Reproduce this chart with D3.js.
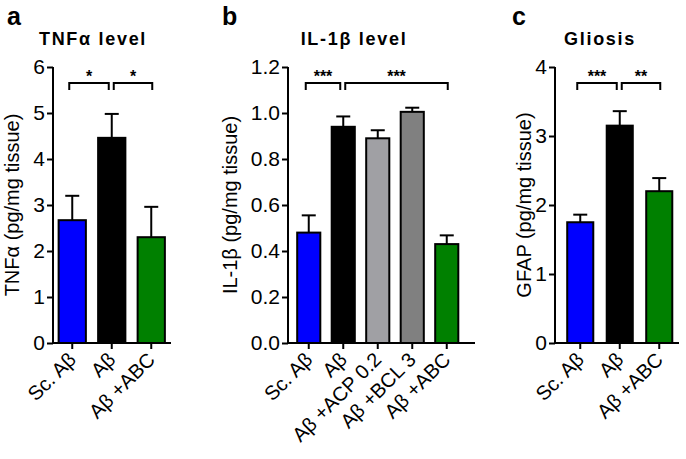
<!DOCTYPE html>
<html>
  <head>
    <meta charset="utf-8">
    <title>Cytokines and gliosis</title>
    <script src="https://d3js.org/d3.v7.min.js"></script>
    <style>
      body { margin: 0; background: #fff; }
      svg text { font-family: "Liberation Sans", Arial, sans-serif; fill: #000; }
    </style>
  </head>
  <body>
    <div id="chart"></div>

    <script type="text/javascript">
      // ---- data ----
      var groupsA = ["Sc. A\u03b2", "A\u03b2", "A\u03b2 +ABC"];
      var meansA  = [2.67, 4.46, 2.30];
      var semA    = [0.53, 0.52, 0.66];
      var ticksA  = [0, 1, 2, 3, 4, 5, 6];

      var groupsB = ["Sc. A\u03b2", "A\u03b2", "A\u03b2 +ACP 0.2", "A\u03b2 +BCL 3", "A\u03b2 +ABC"];
      var meansB  = [0.48, 0.94, 0.89, 1.005, 0.43];
      var semB    = [0.075, 0.045, 0.035, 0.018, 0.038];
      var ticksB  = [0, 0.2, 0.4, 0.6, 0.8, 1.0, 1.2];

      var groupsC = ["Sc. A\u03b2", "A\u03b2", "A\u03b2 +ABC"];
      var meansC  = [1.75, 3.15, 2.20];
      var semC    = [0.11, 0.21, 0.19];
      var ticksC  = [0, 1, 2, 3, 4];

      var colorsA = ["#0000ff", "#000000", "#008000"];
      var colorsB = ["#0000ff", "#000000", "#a0a0a4", "#808080", "#008000"];
      var colorsC = ["#0000ff", "#000000", "#008000"];

      // brackets: [from bar, to bar, label]
      var sigA = [[0, 1, "*"], [1, 2, "*"]];
      var sigB = [[0, 1, "***"], [1, 4, "***"]];
      var sigC = [[0, 1, "***"], [1, 2, "**"]];

      var svg = d3.select('#chart').append('svg')
          .attr('width', 686)
          .attr('height', 459);

      var plotBottom = 343, plotTop = 67;

      function panel(p) {
        var g = svg.append('g');

        var y = d3.scaleLinear().domain(p.ydomain).range([plotBottom, plotTop]);
        var x = d3.scaleBand().domain(p.groups).range(p.xrange)
            .paddingInner(p.pad).paddingOuter(p.pad / 2);
        var cx = function(d) { return x(d) + x.bandwidth() / 2; };

        // bars
        g.selectAll('rect.bar').data(p.means).enter().append('rect')
            .attr('x', function(d, i) { return x(p.groups[i]); })
            .attr('y', function(d) { return y(d); })
            .attr('width', x.bandwidth())
            .attr('height', function(d) { return y(0) - y(d); })
            .attr('fill', function(d, i) { return p.colors[i]; })
            .attr('stroke', '#000')
            .attr('stroke-width', 2);

        // error bars (upper only)
        var eb = g.selectAll('g.err').data(p.means).enter().append('g');
        eb.append('line')
            .attr('x1', function(d, i) { return cx(p.groups[i]); })
            .attr('x2', function(d, i) { return cx(p.groups[i]); })
            .attr('y1', function(d) { return y(d); })
            .attr('y2', function(d, i) { return y(d + p.sem[i]); })
            .attr('stroke', '#000').attr('stroke-width', 2);
        eb.append('line')
            .attr('x1', function(d, i) { return cx(p.groups[i]) - 7; })
            .attr('x2', function(d, i) { return cx(p.groups[i]) + 7; })
            .attr('y1', function(d, i) { return y(d + p.sem[i]); })
            .attr('y2', function(d, i) { return y(d + p.sem[i]); })
            .attr('stroke', '#000').attr('stroke-width', 2);

        // y axis
        var yAxis = d3.axisLeft(y).tickValues(p.ticks).tickFormat(p.fmt)
            .tickSize(6).tickSizeOuter(0).tickPadding(2);
        var ya = g.append('g').attr('transform', 'translate(' + p.xrange0 + ',0)').call(yAxis);
        ya.select('.domain').attr('stroke-width', 2).attr('d', 'M0,' + (plotBottom + 1) + 'V' + plotTop);
        ya.selectAll('.tick line').attr('stroke-width', 2);
        ya.selectAll('.tick text').style('font-size', '21px').attr('fill', '#000');

        // x axis
        var xAxis = d3.axisBottom(x).tickSize(6).tickSizeOuter(0).tickFormat('');
        var xa = g.append('g').attr('transform', 'translate(0,' + plotBottom + ')').call(xAxis);
        xa.select('.domain').attr('stroke-width', 2).attr('d', 'M' + p.xrange0 + ',0H' + p.xend);
        xa.selectAll('.tick line').attr('stroke-width', 2);

        g.selectAll('text.xl').data(p.groups).enter().append('text')
            .attr('transform', function(d) {
              return 'translate(' + cx(d) + ',' + (plotBottom + 13) + ') rotate(-45)';
            })
            .attr('text-anchor', 'end')
            .attr('dy', '0.35em')
            .style('font-size', '20px')
            .text(function(d) { return d; });

        // y title
        g.append('text')
            .attr('transform', 'translate(' + p.ytitleX + ',' + ((plotBottom + plotTop) / 2) + ') rotate(-90)')
            .attr('text-anchor', 'middle')
            .style('font-size', '20px')
            .text(p.ytitle);

        // title + panel letter
        g.append('text')
            .attr('x', p.titleX).attr('y', 45)
            .attr('text-anchor', 'middle')
            .style('font-size', '18px').style('font-weight', 'bold')
            .style('letter-spacing', '1.7px')
            .text(p.title);
        g.append('text')
            .attr('x', p.letterX).attr('y', 25)
            .style('font-size', '25px').style('font-weight', 'bold')
            .text(p.letter);

        // significance brackets
        p.sig.forEach(function(s) {
          var x1 = cx(p.groups[s[0]]) + (s[0] === 1 ? 2 : -3);
          var x2 = cx(p.groups[s[1]]) + (s[1] === 1 ? -3 : 1);
          g.append('path')
              .attr('d', 'M' + x1 + ',90V83H' + x2 + 'V90')
              .attr('fill', 'none').attr('stroke', '#000').attr('stroke-width', 2);
          g.append('text')
              .attr('x', (x1 + x2) / 2).attr('y', 82)
              .attr('text-anchor', 'middle')
              .style('font-size', '16px').style('font-weight', 'bold')
              .text(s[2]);
        });
      }

      panel({ groups: groupsA, means: meansA, sem: semA, ticks: ticksA, colors: colorsA, sig: sigA,
              ydomain: [0, 6], xrange: [52.5, 171], xrange0: 53, xend: 171, pad: 0.31,
              fmt: d3.format('d'), ytitle: "TNF\u03b1 (pg/mg tissue)", ytitleX: 19,
              title: "TNF\u03b1 level", titleX: 93, letter: "a", letterX: 7 });

      panel({ groups: groupsB, means: meansB, sem: semB, ticks: ticksB, colors: colorsB, sig: sigB,
              ydomain: [0, 1.2], xrange: [291.5, 464], xrange0: 288, xend: 475, pad: 0.33,
              fmt: d3.format('.1f'), ytitle: "IL-1\u03b2 (pg/mg tissue)", ytitleX: 237,
              title: "IL-1\u03b2 level", titleX: 354, letter: "b", letterX: 222 });

      panel({ groups: groupsC, means: meansC, sem: semC, ticks: ticksC, colors: colorsC, sig: sigC,
              ydomain: [0, 4], xrange: [560.5, 679], xrange0: 555, xend: 679, pad: 0.34,
              fmt: d3.format('d'), ytitle: "GFAP (pg/mg tissue)", ytitleX: 531,
              title: "Gliosis", titleX: 600, letter: "c", letterX: 512 });
    </script>
  </body>
</html>
